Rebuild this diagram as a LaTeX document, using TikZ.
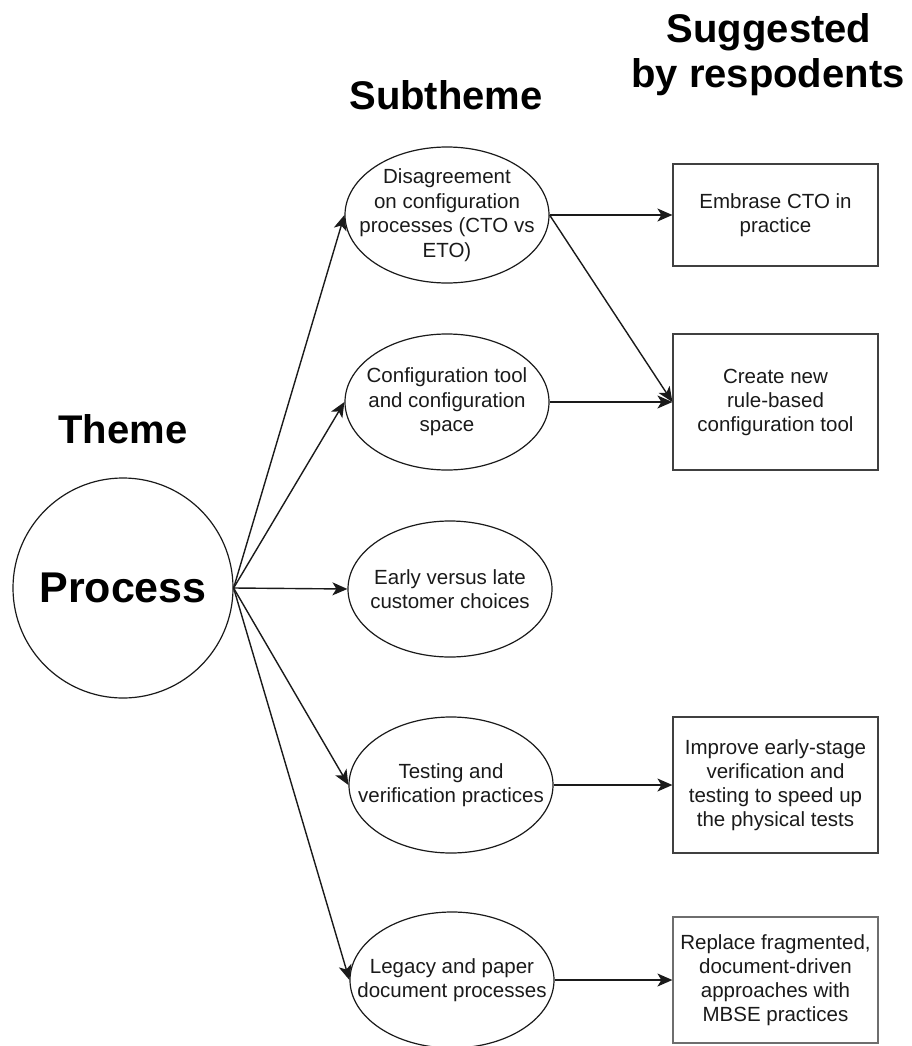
\documentclass[tikz,border=0pt]{standalone}
\usepackage{fontspec}
\setmainfont{Liberation Sans}
\usetikzlibrary{shapes.geometric,arrows.meta}
\definecolor{ink}{HTML}{1A1A1A}
\definecolor{boxline}{HTML}{404040}
\definecolor{boxlight}{HTML}{6E6E6E}
\begin{document}
\begin{tikzpicture}[x=1pt,y=-1pt,
  heading/.style={font=\fontsize{40}{45}\selectfont\bfseries, inner sep=0pt, anchor=base},
  subnode/.style={ellipse, draw=ink, line width=1.2pt, minimum width=204pt, minimum height=136pt,
    inner sep=0pt},
  subtext/.style={inner sep=0pt, align=center, text=ink, font=\fontsize{20.5}{24.5}\selectfont},
  suggbox/.style={rectangle, draw=boxline, line width=1.2pt, minimum width=205pt,
    inner sep=0pt, align=center, text=ink, font=\fontsize{20.5}{24}\selectfont},
  link/.style={draw=ink, line width=1.4pt, -{Stealth[length=15pt,width=13pt,inset=4pt]}}
]
\useasboundingbox (0,0) rectangle (912,1046);

% column headings
\node[heading] (hsugg) at (769,43) {Suggested};
\node[heading] (hby)   at (768,88) {by respodents};
\node[heading] (hsub)  at (446,110) {Subtheme};
\node[heading] (htheme) at (123,443) {Theme};

% theme
\node[circle, draw=ink, line width=1.2pt, minimum size=220pt, inner sep=0pt,
      font=\fontsize{43}{48}\selectfont\bfseries] (proc) at (123,588) {Process};

% subthemes: fixed-size ellipses with their wording laid on top
\node[subnode] (s1) at (447,215) {};
\node[subnode] (s2) at (447,402) {};
\node[subnode] (s3) at (450,589) {};
\node[subnode] (s4) at (451,785) {};
\node[subnode] (s5) at (452,980) {};
\node[subtext] (t1) at (s1) {Disagreement\\on configuration\\processes (CTO vs\\ETO)};
\node[subtext] (t2) at (s2) {Configuration tool\\and configuration\\space};
\node[subtext] (t3) at (s3) {Early versus late\\customer choices};
\node[subtext] (t4) at (s4) {Testing and\\verification practices};
\node[subtext] (t5) at (s5) {Legacy and paper\\document processes};

% suggestions
\node[suggbox, minimum height=102pt] (b1) at (775.5,215) {Embrase CTO in\\practice};
\node[suggbox, minimum height=136pt] (b2) at (775.5,402) {Create new\\rule-based\\configuration tool};
\node[suggbox, minimum height=136pt] (b3) at (775.5,785) {Improve early-stage\\verification and\\testing to speed up\\the physical tests};
\node[suggbox, draw=boxlight, minimum height=126pt] (b4) at (775.5,980) {Replace fragmented,\\document-driven\\approaches with\\MBSE practices};

% theme to subthemes
\draw[link] (proc.east) -- (s1.west);
\draw[link] (proc.east) -- (s2.west);
\draw[link] (proc.east) -- (s3.west);
\draw[link] (proc.east) -- (s4.west);
\draw[link] (proc.east) -- (s5.west);

% subthemes to suggestions
\draw[link] (s1.east) -- (b1.west);
\draw[link] (s1.east) -- (b2.west);
\draw[link] (s2.east) -- (b2.west);
\draw[link] (s4.east) -- (b3.west);
\draw[link] (s5.east) -- (b4.west);
\end{tikzpicture}
\end{document}
